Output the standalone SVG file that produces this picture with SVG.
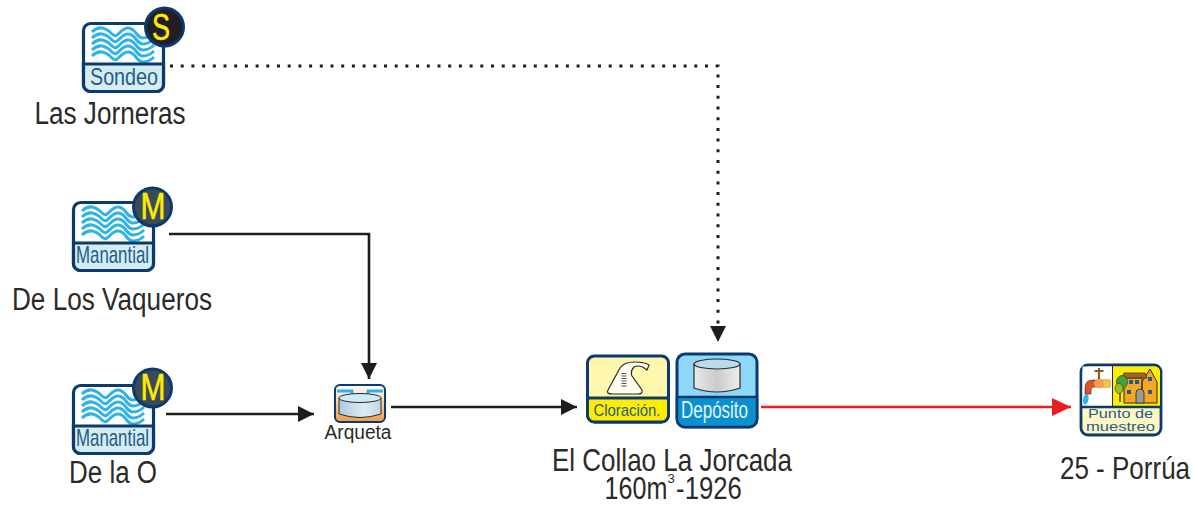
<svg xmlns="http://www.w3.org/2000/svg" width="1194" height="505" viewBox="0 0 1194 505">
<style>
text{font-family:"Liberation Sans",Arial,sans-serif;fill:#2b2a29;text-anchor:middle}
.lbl{font-size:31px}
.c{fill:none;stroke:#1d1d1b;stroke-width:2.6}
.nv{stroke:#0b3a6e;stroke-width:3.2}
.w{fill:none;stroke:#2fb2ea;stroke-width:3}
.ic{font-size:24px;fill:#1f5c8c}
.let{font-size:37px;fill:#ffed00;stroke:#ffed00;stroke-width:.5}
.pt{font-size:12.500px;fill:#1f5c8c}
</style>
<defs>
<linearGradient id="gt" x1="0" x2="1" y1="0" y2="0"><stop offset="0" stop-color="#e7e8e8"/><stop offset=".5" stop-color="#c9cbcc"/><stop offset="1" stop-color="#eeeeee"/></linearGradient>
<linearGradient id="ga" x1="0" x2="0" y1="0" y2="1"><stop offset="0" stop-color="#ffffff"/><stop offset=".45" stop-color="#fbd3a8"/><stop offset="1" stop-color="#f39a45"/></linearGradient>
<linearGradient id="gb" x1="0" x2="1" y1="0" y2="0"><stop offset="0" stop-color="#a8ccdc"/><stop offset=".6" stop-color="#dcecf3"/><stop offset="1" stop-color="#c0d8e3"/></linearGradient>
<marker id="ab" markerWidth="16" markerHeight="16" refX="16" refY="8" orient="auto" markerUnits="userSpaceOnUse"><path d="M0 0L16 8L0 16Z" fill="#1d1d1b"/></marker>
<marker id="ar" markerWidth="19" markerHeight="18" refX="19" refY="9" orient="auto" markerUnits="userSpaceOnUse"><path d="M0 0L19 9L0 18Z" fill="#ed1c24"/></marker>
<path id="wave" class="w" d="M10 10C17 3 24 6 30 12C36 18 38 6 46 6C54 6 54 16 61 16C66 16 70 13 72 11"/>
<g id="src">
<rect x="1.500" y="1.500" width="80" height="68" rx="7" fill="#fff" class="nv"/>
<use href="#wave"/><use href="#wave" y="6"/><use href="#wave" y="12"/><use href="#wave" y="18"/><use href="#wave" y="24"/>
<path d="M1.500 42H81.500V62.500a7 7 0 0 1-7 7H8.500a7 7 0 0 1-7-7Z" fill="#d5edf0" class="nv"/>
</g>
</defs>
<g id="connectors">
<path fill="none" stroke="#1d1d1b" stroke-width="3" stroke-dasharray="3 7.700" d="M170 66H718V326"/>
<path fill="#1d1d1b" d="M710 326H726L718 342Z"/>
<path class="c" d="M169 234H369V379" marker-end="url(#ab)"/>
<path class="c" d="M166 414H314" marker-end="url(#ab)"/>
<path class="c" d="M391 407H577" marker-end="url(#ab)"/>
<path fill="none" stroke="#ed1c24" stroke-width="2.600" d="M761 407H1071" marker-end="url(#ar)"/>
</g>
<g id="sondeo">
<use href="#src" x="82" y="22"/>
<text class="ic" x="124" y="85" textLength="68" lengthAdjust="spacingAndGlyphs">Sondeo</text>
<circle cx="164.500" cy="27" r="19" fill="#231f20" stroke="#0b3a6e" stroke-width="3"/>
<text class="let" x="161" y="40" textLength="18" lengthAdjust="spacingAndGlyphs">S</text>
<text class="lbl" x="110" y="124" textLength="151" lengthAdjust="spacingAndGlyphs">Las Jorneras</text>
</g>
<g id="vaqueros">
<use href="#src" x="72" y="201"/>
<text class="ic" x="112.500" y="263" textLength="73" lengthAdjust="spacingAndGlyphs">Manantial</text>
<circle cx="152.500" cy="207" r="19" fill="#3b4a57" stroke="#0b3a6e" stroke-width="3"/>
<text class="let" x="153" y="219" textLength="25" lengthAdjust="spacingAndGlyphs">M</text>
<text class="lbl" x="112" y="310" textLength="200" lengthAdjust="spacingAndGlyphs">De Los Vaqueros</text>
</g>
<g id="delao">
<use href="#src" x="72" y="384"/>
<text class="ic" x="112.500" y="446" textLength="73" lengthAdjust="spacingAndGlyphs">Manantial</text>
<circle cx="152.500" cy="388" r="19" fill="#3b4a57" stroke="#0b3a6e" stroke-width="3"/>
<text class="let" x="153" y="400" textLength="25" lengthAdjust="spacingAndGlyphs">M</text>
<text class="lbl" x="113" y="483" textLength="88" lengthAdjust="spacingAndGlyphs">De la O</text>
</g>
<g id="arqueta">
<rect x="335" y="385" width="50" height="37" rx="5" fill="url(#ga)" stroke="#0b3a6e" stroke-width="2"/>
<path d="M337 391H352V396M383 391H368V396" fill="none" stroke="#2fb2ea" stroke-width="2.800"/>
<path d="M339 398V414Q360 421 381 414V398Z" fill="url(#gb)" stroke="#2b2a29" stroke-width="1"/>
<ellipse cx="360" cy="398" rx="21" ry="4.500" fill="#cfeaf5" stroke="#2b2a29" stroke-width="1"/>
<text x="358" y="439" font-size="20" textLength="67" lengthAdjust="spacingAndGlyphs">Arqueta</text>
</g>
<g id="cloracion">
<rect x="587.500" y="356" width="81" height="66" rx="7" fill="#fff7ae" stroke="#0b3a6e" stroke-width="3"/>
<path d="M587.500 398H668.500V415a7 7 0 0 1-7 7H594.500a7 7 0 0 1-7-7Z" fill="#ffed00" stroke="#0b3a6e" stroke-width="3"/>
<path d="M608 390L620 368Q624 362 634 362Q645 362 649 365L647 370Q640 364 634 367Q630 371 632 376L642 390Q643 394 638 394H612Q606 394 608 390Z" fill="#fffdf0" stroke="#2b2a29" stroke-width="1.200"/>
<path d="M624 373V388" stroke="#555" stroke-width="5" stroke-dasharray="1 1.500"/>
<text x="627" y="416" font-size="17" textLength="67" lengthAdjust="spacingAndGlyphs" style="fill:#1f5c8c">Cloración.</text>
</g>
<g id="deposito">
<rect x="677" y="354" width="80" height="73" rx="8" fill="#8fd7f7" stroke="#0b3a6e" stroke-width="3"/>
<path d="M677 397H757V419a8 8 0 0 1-8 8H685a8 8 0 0 1-8-8Z" fill="#0a8fd0" stroke="#0b3a6e" stroke-width="2.500"/>
<path d="M694 364V388Q717 396 740 388V364Z" fill="url(#gt)" stroke="#2b2a29" stroke-width="1.200"/>
<ellipse cx="717" cy="364" rx="23" ry="5" fill="#b9dcea" stroke="#2b2a29" stroke-width="1.200"/>
<text x="714.500" y="418" font-size="24" textLength="67" lengthAdjust="spacingAndGlyphs" style="fill:#e4f5fc">Depósito</text>
<text class="lbl" transform="translate(672 471) scale(.84 1)">El Collao La Jorcada</text>
<text class="lbl" transform="translate(636 499) scale(.81 1)">160m</text>
<text x="671" y="483" font-size="13">3</text>
<text class="lbl" transform="translate(709 499) scale(.83 1)">-1926</text>
</g>
<g id="punto">
<rect x="1081" y="365" width="80" height="70" rx="7" fill="#fff7c2" stroke="#0b3a6e" stroke-width="2.800"/>
<path d="M1082.500 366.500H1112V406H1082.500Z" fill="#fff"/>
<path d="M1113 366.500H1155a5 5 0 0 1 5 5V406H1113Z" fill="#ffed00"/>
<path d="M1082 407H1160" stroke="#0b3a6e" stroke-width="2.500"/>
<path d="M1112.500 366V406" stroke="#2b2a29" stroke-width="1"/>
<path d="M1085 394V388Q1085 380 1093 380H1110V387H1094Q1091 387 1091 390V394Z" fill="#e2512a" stroke="#2b2a29" stroke-width=".6"/>
<path d="M1103 380H1110V387H1103Z" fill="#f9c33a"/>
<circle cx="1099" cy="383.500" r="5" fill="#f6a04d"/>
<path d="M1099 379V368M1094.500 371H1103.500" stroke="#8a5a2b" stroke-width="2"/>
<path d="M1085 394Q1081 402 1085 405Q1090 402 1088 394Z" fill="#2fb2ea"/>
<path d="M1124 378H1142V403H1124ZM1142 382L1150 369L1157 382V403H1142Z" fill="#f7a823" stroke="#2b2a29" stroke-width="1"/>
<path d="M1124 373H1145L1147 378H1122Z" fill="#a5622a" stroke="#2b2a29" stroke-width=".7"/>
<path d="M1136 403V393a4 4 0 0 1 8 0V403Z" fill="#9a9a9a" stroke="#2b2a29" stroke-width=".8"/>
<path d="M1129 380h4v4h-4ZM1135 380h4v4h-4ZM1148 377h4v4h-4ZM1127 390h4v4h-4ZM1148 390h4v4h-4Z" fill="#1f5c8c"/>
<path d="M1120 390V402" stroke="#5a3a1a" stroke-width="1.500"/>
<ellipse cx="1122" cy="382" rx="5.500" ry="6.500" fill="#3fa535" stroke="#2b2a29" stroke-width=".6"/>
<ellipse cx="1119" cy="388.500" rx="4" ry="5" fill="#95c11f" stroke="#2b2a29" stroke-width=".6"/>
<text class="pt" x="1120.500" y="418" textLength="65" lengthAdjust="spacingAndGlyphs">Punto de</text>
<text class="pt" x="1120.500" y="431" textLength="69" lengthAdjust="spacingAndGlyphs">muestreo</text>
<text class="lbl" transform="translate(1125 479) scale(.84 1)">25 - Porrúa</text>
</g>
</svg>
